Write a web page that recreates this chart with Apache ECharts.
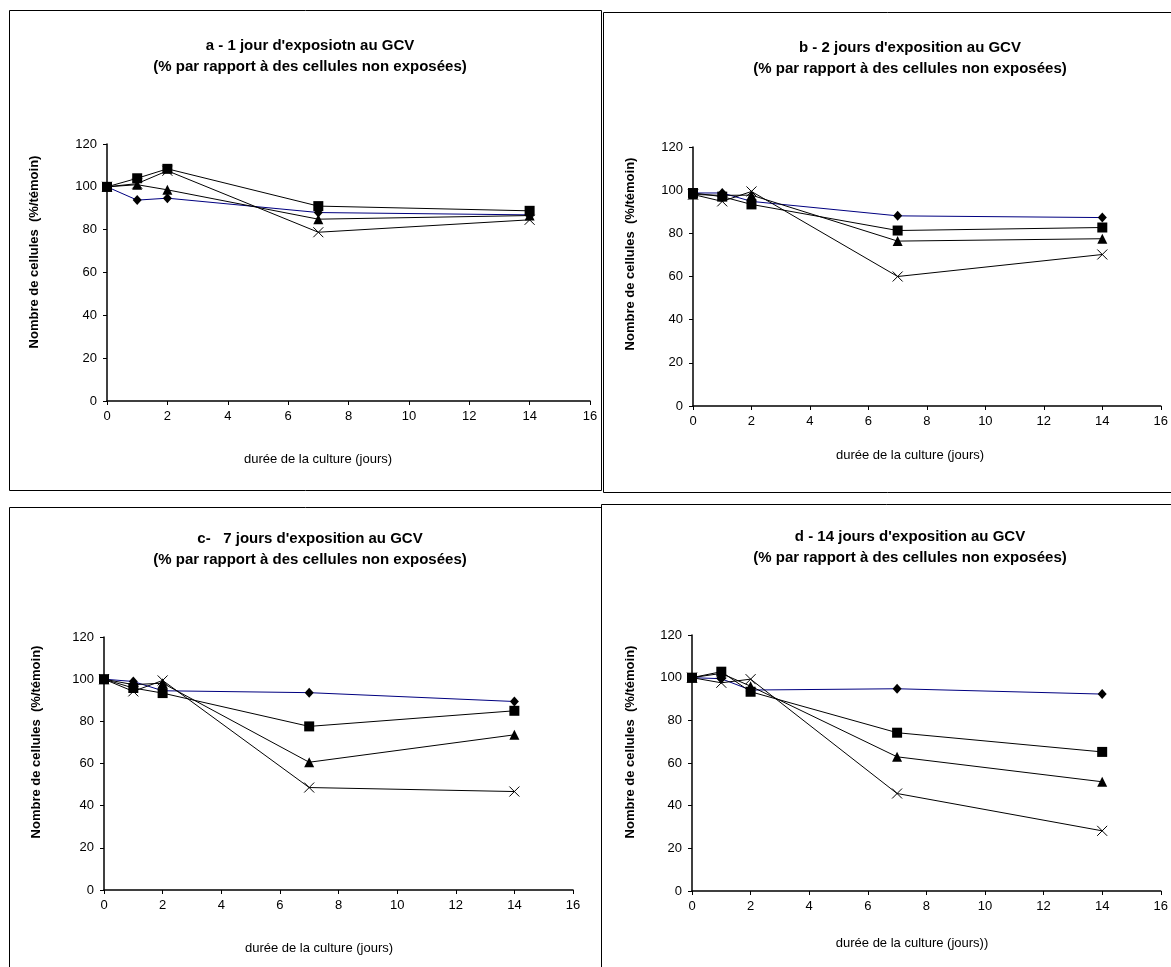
<!DOCTYPE html>
<html>
<head>
<meta charset="utf-8">
<script src="https://cdn.jsdelivr.net/npm/echarts@6/dist/echarts.min.js"></script>
<style>
html,body{margin:0;padding:0;background:#fff;}
#chart{width:1171px;height:967px;}
</style>
</head>
<body>
<div id="chart"></div>
<script>
// ---- data ----
const days = [0, 1, 2, 7, 14];
const xTicks = [0, 2, 4, 6, 8, 10, 12, 14, 16];
const yTicks = [0, 20, 40, 60, 80, 100, 120];

const panelTitles = [
  "a - 1 jour d'exposiotn au GCV\n(% par rapport à des cellules non exposées)",
  "b - 2 jours d'exposition au GCV\n(% par rapport à des cellules non exposées)",
  "c-   7 jours d'exposition au GCV\n(% par rapport à des cellules non exposées)",
  "d - 14 jours d'exposition au GCV\n(% par rapport à des cellules non exposées)"
];
const xAxisNames = [
  "durée de la culture (jours)",
  "durée de la culture (jours)",
  "durée de la culture (jours)",
  "durée de la culture (jours))"
];
const yAxisName = "Nombre de cellules  (%/témoin)";

// panel a
const aDiamond  = [100, 93.8, 94.7, 88.0, 86.9];
const aSquare   = [100, 104.0, 108.4, 91.0, 88.8];
const aTriangle = [100, 101.0, 98.6, 84.9, 86.6];
const aCross    = [100, 101.5, 107.5, 78.8, 84.6];
// panel b
const bDiamond  = [98.7, 98.7, 94.8, 88.1, 87.3];
const bSquare   = [98.7, 97.0, 93.4, 81.3, 82.7];
const bTriangle = [98.0, 97.6, 97.7, 76.4, 77.5];
const bCross    = [98.0, 94.8, 99.4, 60.0, 70.2];
// panel c
const cDiamond  = [100, 98.9, 94.5, 93.6, 89.4];
const cSquare   = [100, 95.8, 93.4, 77.6, 85.0];
const cTriangle = [100, 97.4, 98.1, 60.6, 73.6];
const cCross    = [100, 94.2, 99.4, 48.6, 46.7];
// panel d
const dDiamond  = [100, 99.5, 94.2, 94.8, 92.3];
const dSquare   = [100, 102.8, 93.4, 74.2, 65.2];
const dTriangle = [100, 102.0, 96.0, 62.9, 51.2];
const dCross    = [100, 97.6, 99.3, 45.7, 28.2];

const panelData = [
  [aDiamond, aSquare, aTriangle, aCross],
  [bDiamond, bSquare, bTriangle, bCross],
  [cDiamond, cSquare, cTriangle, cCross],
  [dDiamond, dSquare, dTriangle, dCross]
];

// ---- layout ----
const FONT = "'Liberation Sans', Arial, sans-serif";
const grids = [
  {left: 107, top: 144, width: 483, height: 257},
  {left: 693, top: 147, width: 469, height: 259},
  {left: 104, top: 637, width: 469, height: 253},
  {left: 692, top: 635, width: 470, height: 256}
];
const titlePos = [[305, 30], [905, 32], [305, 523], [905, 521]];
const xNamePos = [[318, 459], [910, 455], [319, 948], [912, 943]];
const yNamePos = [[34, 252], [630, 254], [36, 742], [630, 742]];
const boxes = [
  [9, 10, 592, 480],
  [603, 12, 600, 480],
  [9, 507, 592, 480],
  [601, 504, 600, 480]
];

const seriesStyles = [
  {symbol: 'diamond', size: [9, 10], line: '#000080'},
  {symbol: 'rect', size: 10, line: '#000000'},
  {symbol: 'triangle', size: 10, line: '#000000'},
  {symbol: 'path://M0,0L10,10M10,0L0,10', size: 10, line: '#000000', cross: true}
];

const option = {
  backgroundColor: '#ffffff',
  animation: false,
  title: [],
  grid: [],
  xAxis: [],
  yAxis: [],
  series: [],
  graphic: []
};

boxes.forEach(b => {
  option.graphic.push({
    type: 'rect', silent: true, z: -1,
    shape: {x: b[0] + 0.5, y: b[1] + 0.5, width: b[2], height: b[3]},
    style: {fill: 'none', stroke: '#000', lineWidth: 1}
  });
});

for (let p = 0; p < 4; p++) {
  option.title.push({
    text: panelTitles[p],
    left: titlePos[p][0], top: titlePos[p][1],
    textAlign: 'center',
    textStyle: {fontFamily: FONT, fontSize: 15, fontWeight: 'bold', color: '#000', lineHeight: 21}
  });
  option.grid.push(grids[p]);
  option.xAxis.push({
    type: 'value', gridIndex: p, min: 0, max: 16, interval: 2,
    axisLine: {lineStyle: {color: '#000', width: 1.5}},
    axisTick: {show: true, inside: false, length: 4, lineStyle: {color: '#000'}},
    axisLabel: {color: '#000', fontFamily: FONT, fontSize: 13, margin: 9},
    splitLine: {show: false}
  });
  option.yAxis.push({
    type: 'value', gridIndex: p, min: 0, max: 120, interval: 20,
    axisLine: {show: true, lineStyle: {color: '#000', width: 1.5}},
    axisTick: {show: true, inside: false, length: 4, lineStyle: {color: '#000'}},
    axisLabel: {color: '#000', fontFamily: FONT, fontSize: 13, margin: 10},
    splitLine: {show: false}
  });
  option.graphic.push({
    type: 'text', silent: true,
    x: xNamePos[p][0], y: xNamePos[p][1],
    style: {text: xAxisNames[p], fontFamily: FONT, fontSize: 13, fill: '#000',
            align: 'center', verticalAlign: 'middle'}
  });
  option.graphic.push({
    type: 'text', silent: true,
    x: yNamePos[p][0], y: yNamePos[p][1], rotation: Math.PI / 2,
    style: {text: yAxisName, fontFamily: FONT, fontSize: 13, fontWeight: 'bold', fill: '#000',
            align: 'center', verticalAlign: 'middle'}
  });
  panelData[p].forEach((vals, s) => {
    const st = seriesStyles[s];
    option.series.push({
      type: 'line',
      xAxisIndex: p, yAxisIndex: p,
      data: days.map((d, i) => [d, vals[i]]),
      symbol: st.symbol,
      symbolSize: st.size,
      showAllSymbol: true,
      lineStyle: {color: st.line, width: 1},
      itemStyle: st.cross
        ? {color: '#000', borderColor: '#000', borderWidth: 1}
        : {color: '#000', borderWidth: 0},
      z: s === 0 ? 2 : 3
    });
  });
}

const chart = echarts.init(document.getElementById('chart'), null, {renderer: 'canvas'});
chart.setOption(option);
</script>
</body>
</html>
